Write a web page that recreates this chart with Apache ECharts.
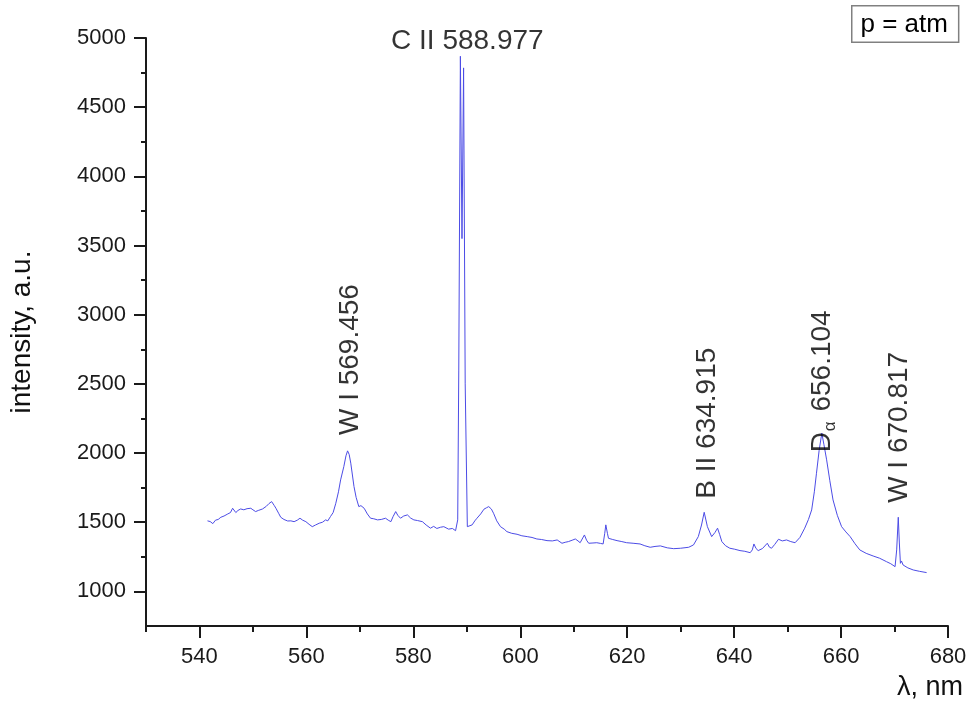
<!DOCTYPE html>
<html>
<head>
<meta charset="utf-8">
<script src="https://cdn.jsdelivr.net/npm/echarts@6/dist/echarts.min.js"></script>
<style>
html,body{margin:0;padding:0;background:#fff;}
#chart{width:973px;height:707px;}
</style>
</head>
<body>
<div id="chart"></div>
<script>
// wavelength (nm)
var wavelength = [
541.5,542.0,542.5,543.0,543.5,544.0,544.6,545.3,545.8,546.2,546.8,547.2,547.7,548.3,548.9,549.6,550.0,550.5,551.0,551.8,
552.5,553.0,553.5,554.0,554.3,554.8,555.2,555.8,556.5,557.1,557.7,558.3,558.8,559.3,559.9,560.5,561.1,561.7,562.4,563.0,
563.6,564.0,564.5,565.0,565.5,566.0,566.4,567.0,567.4,567.7,568.0,568.3,568.9,569.3,569.8,570.2,570.8,571.4,572.0,572.6,
573.3,574.0,574.8,575.3,575.8,576.2,576.7,577.1,577.6,578.2,578.9,579.5,580.1,580.8,581.7,582.4,583.2,583.8,584.4,585.1,
585.7,586.6,587.3,587.9,588.3,588.5,588.8,589.1,589.4,589.7,590.1,591.0,591.5,591.9,592.6,593.2,593.7,594.1,594.6,595.0,
595.6,596.3,597.0,597.5,598.4,599.4,600.3,601.3,602.2,603.1,604.0,605.0,606.0,606.9,607.8,608.4,609.0,609.7,610.3,610.8,
611.2,612.0,612.4,612.8,613.6,614.3,615.0,615.5,615.8,616.0,616.3,616.5,617.3,618.1,619.0,619.9,621.1,622.4,623.3,624.3,
625.2,626.2,627.5,628.7,630.0,631.5,632.4,633.3,633.9,634.4,635.0,635.8,636.4,636.9,637.3,637.7,638.4,639.2,640.1,641.1,
642.0,643.0,643.4,643.7,644.1,644.5,645.3,646.2,646.6,647.0,647.6,648.3,649.0,649.8,650.6,651.4,652.3,653.2,653.9,654.5,
655.0,655.4,655.9,656.4,656.8,657.3,657.9,658.5,659.3,660.1,660.9,661.7,662.6,663.5,664.7,666.0,667.2,668.5,669.3,670.1,
670.4,670.7,670.9,671.1,671.3,671.6,672.5,673.5,674.7,676.0
];
// intensity (a.u.)
var intensity = [
1510,1505,1490,1515,1520,1536,1545,1560,1570,1601,1570,1585,1596,1590,1598,1601,1590,1577,1585,1596,
1615,1635,1649,1620,1601,1565,1536,1520,1509,1510,1504,1515,1529,1515,1504,1485,1468,1480,1493,1500,
1517,1510,1541,1570,1637,1720,1806,1902,1980,2016,1990,1927,1758,1680,1613,1620,1601,1560,1529,1525,
1517,1520,1529,1515,1504,1540,1577,1550,1529,1545,1553,1530,1517,1512,1504,1480,1457,1470,1455,1464,
1468,1450,1455,1439,1517,2600,4868,3550,4784,2500,1468,1481,1510,1529,1560,1594,1605,1613,1595,1565,
1510,1468,1450,1432,1420,1413,1402,1396,1390,1379,1375,1367,1365,1372,1348,1355,1360,1370,1379,1365,
1352,1408,1370,1348,1350,1352,1347,1343,1420,1481,1420,1384,1375,1367,1360,1352,1348,1343,1330,1319,
1325,1329,1315,1309,1312,1319,1336,1396,1480,1572,1468,1396,1425,1457,1410,1360,1330,1312,1305,1295,
1290,1280,1300,1343,1310,1295,1310,1348,1320,1312,1340,1377,1365,1372,1360,1352,1390,1457,1520,1589,
1720,1854,2020,2144,2060,1951,1800,1661,1550,1468,1430,1396,1345,1300,1275,1256,1240,1215,1200,1179,
1300,1536,1350,1203,1220,1191,1170,1155,1145,1136
];
// tick values
var xMajorTicks = [540,560,580,600,620,640,660,680];
var xMinorTicks = [530,550,570,590,610,630,650,670];
var yMajorTicks = [1000,1500,2000,2500,3000,3500,4000,4500,5000];
var yMinorTicks = [1250,1750,2250,2750,3250,3750,4250,4750];
// peak annotations
var annoText = ['C II 588.977','W I 569.456','B II 634.915','{d|D}{s|α}{d| 656.104}','W I 670.817'];
var annoLambda = [590.1, 568.3, 635.0, 656.4, 670.8];
var annoIntensity = [4975, 2130, 1670, 2005, 1640];
var annoRotate = [0, 90, 90, 90, 90];

var FONT = "'Liberation Sans', Arial, sans-serif";
var lineData = wavelength.map(function(w,i){return [w, intensity[i]];});
var annoData = annoText.map(function(t,i){
  var rot = annoRotate[i];
  return {
    value:[annoLambda[i], annoIntensity[i]],
    label:{
      formatter: t,
      rotate: rot,
      align: rot ? 'left' : 'center',
      verticalAlign: 'middle'
    }
  };
});
function plain(v){ return String(v); }

var chart = echarts.init(document.getElementById('chart'), null, {renderer:'canvas'});
chart.setOption({
  animation:false,
  backgroundColor:'#ffffff',
  grid:{left:145, right:25, top:38, bottom:81, containLabel:false},
  xAxis:[{
    type:'value', min:530, max:680,
    axisLine:{show:true, onZero:false, lineStyle:{color:'#1a1a1a', width:2}},
    axisTick:{show:true, length:12, customValues:xMajorTicks, lineStyle:{color:'#1a1a1a', width:2}},
    axisLabel:{show:true, customValues:xMajorTicks, formatter:plain, fontSize:22, color:'#1a1a1a', fontFamily:FONT, margin:20},
    splitLine:{show:false}
  },{
    type:'value', min:530, max:680, position:'bottom',
    axisLine:{show:false},
    axisTick:{show:true, length:6, customValues:xMinorTicks, lineStyle:{color:'#1a1a1a', width:2}},
    axisLabel:{show:false, customValues:xMinorTicks},
    splitLine:{show:false}
  }],
  yAxis:[{
    type:'value', min:750, max:5000,
    name:'intensity, a.u.', nameLocation:'middle', nameGap:110,
    nameTextStyle:{fontSize:28, color:'#111', fontFamily:FONT},
    axisLine:{show:true, onZero:false, lineStyle:{color:'#1a1a1a', width:2}},
    axisTick:{show:true, length:12, customValues:yMajorTicks, lineStyle:{color:'#1a1a1a', width:2}},
    axisLabel:{show:true, customValues:yMajorTicks, formatter:plain, fontSize:22, color:'#1a1a1a', fontFamily:FONT, margin:20},
    splitLine:{show:false}
  },{
    type:'value', min:750, max:5000, position:'left',
    axisLine:{show:false},
    axisTick:{show:true, length:5, customValues:yMinorTicks, lineStyle:{color:'#1a1a1a', width:2}},
    axisLabel:{show:false, customValues:yMinorTicks},
    splitLine:{show:false}
  }],
  series:[{
    type:'line', xAxisIndex:0, yAxisIndex:0,
    data:lineData, showSymbol:false, symbol:'none',
    lineStyle:{color:'#4c4ce6', width:1},
    z:3
  },{
    type:'scatter', xAxisIndex:0, yAxisIndex:0,
    data:annoData, symbolSize:0, silent:true, z:5,
    label:{
      show:true, position:'inside', fontSize:28, color:'#000', fontFamily:FONT,
      rich:{
        d:{fontSize:28, color:'#000', fontFamily:FONT, lineHeight:34, verticalAlign:'middle'},
        s:{fontSize:17, color:'#000', fontFamily:FONT, lineHeight:17, verticalAlign:'bottom', padding:[0,2,0,1]}
      }
    }
  }],
  graphic:[{
    type:'text', right:10, top:674,
    style:{text:'λ, nm', fontSize:27, fill:'#111', fontFamily:FONT}
  },{
    type:'text', left:851, top:5,
    style:{text:'p = atm', fontSize:26, fill:'#000', fontFamily:FONT,
      backgroundColor:'#fff', borderColor:'#808080', borderWidth:1.5, padding:[5,10,4,8]}
  }]
});
</script>
</body>
</html>
